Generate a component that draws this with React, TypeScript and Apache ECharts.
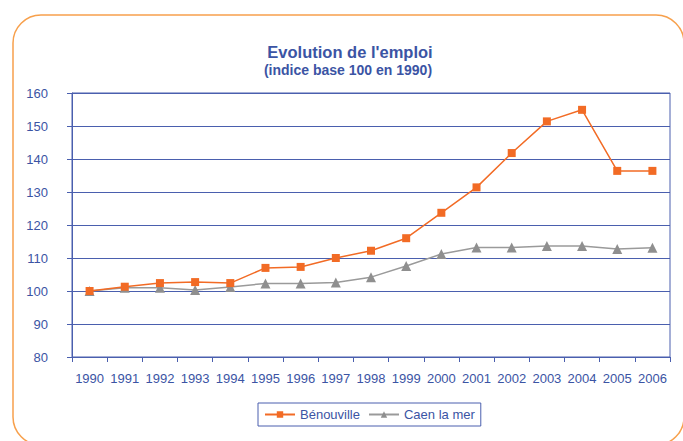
import React, { useEffect, useRef } from "react";
import * as echarts from "echarts";

const years = ["1990", "1991", "1992", "1993", "1994", "1995", "1996", "1997", "1998", "1999", "2000", "2001", "2002", "2003", "2004", "2005", "2006"];
const benouville = [100, 101.3, 102.4, 102.7, 102.4, 107.0, 107.3, 110.0, 112.2, 116.0, 123.7, 131.4, 141.8, 151.4, 154.9, 136.4, 136.4];
const caenLaMer = [100, 101.0, 101.0, 100.3, 101.2, 102.3, 102.3, 102.6, 104.2, 107.6, 111.2, 113.2, 113.2, 113.6, 113.6, 112.7, 113.1];
const yMin = 80;
const yMax = 160;
const yStep = 10;
const titleText = "Evolution de l'emploi";
const subtitleText = "(indice base 100 en 1990)";

const FONT = "'Liberation Sans', Arial, sans-serif";
const BLUE = "#3b54a4";
const GRID_BLUE = "#4a5fae";
const ORANGE = "#f26b25";
const GREY = "#8f8f8f";

export default function App() {
  const ref = useRef<HTMLDivElement>(null);
  useEffect(() => {
    if (!ref.current) return;
    const chart = echarts.init(ref.current, null, { renderer: "svg" });
    chart.setOption({
      animation: false,
      backgroundColor: "#ffffff",
      textStyle: { fontFamily: FONT },
      graphic: [
        {
          type: "rect",
          shape: { x: 13, y: 15, width: 671, height: 430, r: 28 },
          style: { fill: "none", stroke: "#f7a04c", lineWidth: 1.5 },
          silent: true,
          z: -1,
        },
        {
          type: "text",
          x: 350,
          y: 52,
          style: {
            text: titleText,
            align: "center",
            verticalAlign: "middle",
            fill: BLUE,
            font: `bold 16.5px ${FONT}`,
          },
        },
        {
          type: "text",
          x: 348,
          y: 70,
          style: {
            text: subtitleText,
            align: "center",
            verticalAlign: "middle",
            fill: BLUE,
            font: `bold 14px ${FONT}`,
          },
        },
      ],
      legend: {
        left: 258,
        top: 403,
        orient: "horizontal",
        padding: [5, 6],
        itemGap: 8,
        itemWidth: 30,
        itemHeight: 8,
        borderColor: GRID_BLUE,
        borderWidth: 1,
        textStyle: { color: BLUE, fontSize: 13, fontFamily: FONT },
        data: ["Bénouville", "Caen la mer"],
      },
      grid: {
        left: 72,
        right: 13,
        top: 93,
        bottom: 84,
        show: true,
        borderColor: GRID_BLUE,
        borderWidth: 1,
        containLabel: false,
      },
      xAxis: {
        type: "category",
        data: years,
        boundaryGap: true,
        axisLine: { show: true, lineStyle: { color: GRID_BLUE, width: 1 } },
        axisTick: { show: true, interval: 0, alignWithLabel: false, length: 5, lineStyle: { color: GRID_BLUE } },
        axisLabel: { color: BLUE, fontSize: 13, margin: 15, interval: 0, fontFamily: FONT },
        splitLine: { show: false },
      },
      yAxis: {
        type: "value",
        min: yMin,
        max: yMax,
        interval: yStep,
        axisLine: { show: true, lineStyle: { color: GRID_BLUE, width: 1 } },
        axisTick: { show: true, length: 5, lineStyle: { color: GRID_BLUE } },
        axisLabel: { color: BLUE, fontSize: 13, margin: 24, fontFamily: FONT },
        splitLine: { show: true, lineStyle: { color: GRID_BLUE, width: 1 } },
      },
      series: [
        {
          name: "Bénouville",
          type: "line",
          data: benouville,
          symbol: "rect",
          symbolSize: 8,
          lineStyle: { color: ORANGE, width: 1.5 },
          itemStyle: { color: ORANGE },
          z: 3,
        },
        {
          name: "Caen la mer",
          type: "line",
          data: caenLaMer,
          symbol: "triangle",
          symbolSize: 10,
          lineStyle: { color: "#9a9a9a", width: 1.5 },
          itemStyle: { color: GREY },
          z: 2,
        },
      ],
    });
    return () => chart.dispose();
  }, []);
  return (
    <div
      ref={ref}
      style={{ position: "fixed", left: 0, top: 0, width: 683, height: 441, background: "#fff" }}
    />
  );
}
